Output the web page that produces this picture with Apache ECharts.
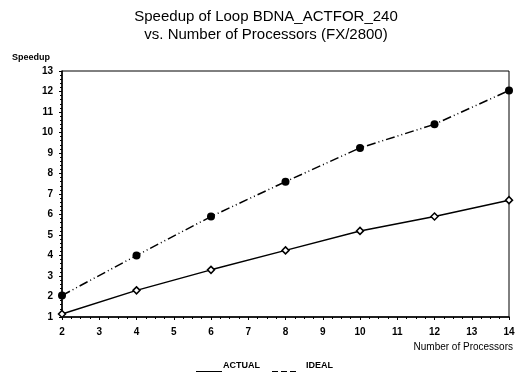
<!DOCTYPE html>
<html>
<head>
<meta charset="utf-8">
<script src="https://cdn.jsdelivr.net/npm/echarts@6/dist/echarts.min.js"></script>
<style>
  html, body { margin: 0; padding: 0; background: #fff; }
  #chart { width: 519px; height: 374px; }
</style>
</head>
<body>
<div id="chart"></div>
<script>
  //数据
  var processors = [2, 4, 6, 8, 10, 12, 14];
  var actual = [1.15, 2.3, 3.3, 4.25, 5.2, 5.9, 6.7];
  var ideal = [2.05, 4.0, 5.9, 7.6, 9.25, 10.4, 12.05];
  var legendNames = ['ACTUAL', 'IDEAL'];

  function pairs(ys) {
    var out = [];
    processors.forEach(function(x, i) {
      out.push([x, ys[i]]);
    });
    return out;
  }

  var font = '"Liberation Sans", Arial, sans-serif';
  var chart = echarts.init(document.getElementById('chart'));
  chart.setOption({
    animation: false,
    title: {
      text: 'Speedup of Loop BDNA_ACTFOR_240\nvs. Number of Processors (FX/2800)',
      left: 261,
      top: 3,
      textAlign: 'center',
      textStyle: {
        fontFamily: font,
        fontSize: 15,
        fontWeight: 'normal',
        color: '#000',
        lineHeight: 18
      }
    },
    //图例：下划线样式，用 graphic 画
    graphic: [{
      type: 'text',
      left: 12,
      top: 53,
      style: { text: 'Speedup', font: 'bold 9px ' + font, fill: '#000' }
    }, {
      type: 'text',
      right: 6,
      top: 342,
      style: { text: 'Number of Processors', font: '10px ' + font, fill: '#000' }
    }, {
      type: 'line',
      shape: { x1: 196, y1: 371.5, x2: 222, y2: 371.5 },
      style: { stroke: '#000', lineWidth: 1 }
    }, {
      type: 'text',
      left: 223,
      top: 361,
      style: { text: legendNames[0], font: 'bold 9px ' + font, fill: '#000' }
    }, {
      type: 'line',
      shape: { x1: 272, y1: 371.5, x2: 296, y2: 371.5 },
      style: { stroke: '#000', lineWidth: 1, lineDash: [6, 3] }
    }, {
      type: 'text',
      left: 306,
      top: 361,
      style: { text: legendNames[1], font: 'bold 9px ' + font, fill: '#000' }
    }],
    grid: {
      left: 62,
      right: 10,
      top: 71,
      bottom: 57,
      show: true,
      borderColor: '#000',
      borderWidth: 1
    },
    xAxis: {
      type: 'value',
      min: 2,
      max: 14,
      interval: 1,
      axisLine: { lineStyle: { color: '#000', width: 1.5 } },
      axisTick: { length: 3, lineStyle: { color: '#000' } },
      minorTick: { show: true, splitNumber: 4, length: 2, lineStyle: { color: '#000' } },
      splitLine: { show: false },
      axisLabel: { margin: 10, fontFamily: font, fontSize: 10, fontWeight: 'bold', color: '#000' }
    },
    yAxis: {
      type: 'value',
      min: 1,
      max: 13,
      interval: 1,
      axisLine: { show: true, lineStyle: { color: '#000', width: 1.5 } },
      axisTick: { show: true, length: 3, lineStyle: { color: '#000' } },
      minorTick: { show: true, splitNumber: 5, length: 2, lineStyle: { color: '#000' } },
      splitLine: { show: false },
      axisLabel: { margin: 9, fontFamily: font, fontSize: 10, fontWeight: 'bold', color: '#000' }
    },
    series: [{
      name: legendNames[0],
      type: 'line',
      data: pairs(actual),
      symbol: 'diamond',
      symbolSize: 7,
      showAllSymbol: true,
      lineStyle: { color: '#000', width: 1.5, type: 'solid' },
      itemStyle: { color: '#fff', borderColor: '#000', borderWidth: 1.5 }
    }, {
      name: legendNames[1],
      type: 'line',
      data: pairs(ideal),
      symbol: 'circle',
      symbolSize: 8,
      showAllSymbol: true,
      lineStyle: { color: '#000', width: 1.5, type: [9, 3, 1, 3, 1, 3] },
      itemStyle: { color: '#000' }
    }]
  });
</script>
</body>
</html>
